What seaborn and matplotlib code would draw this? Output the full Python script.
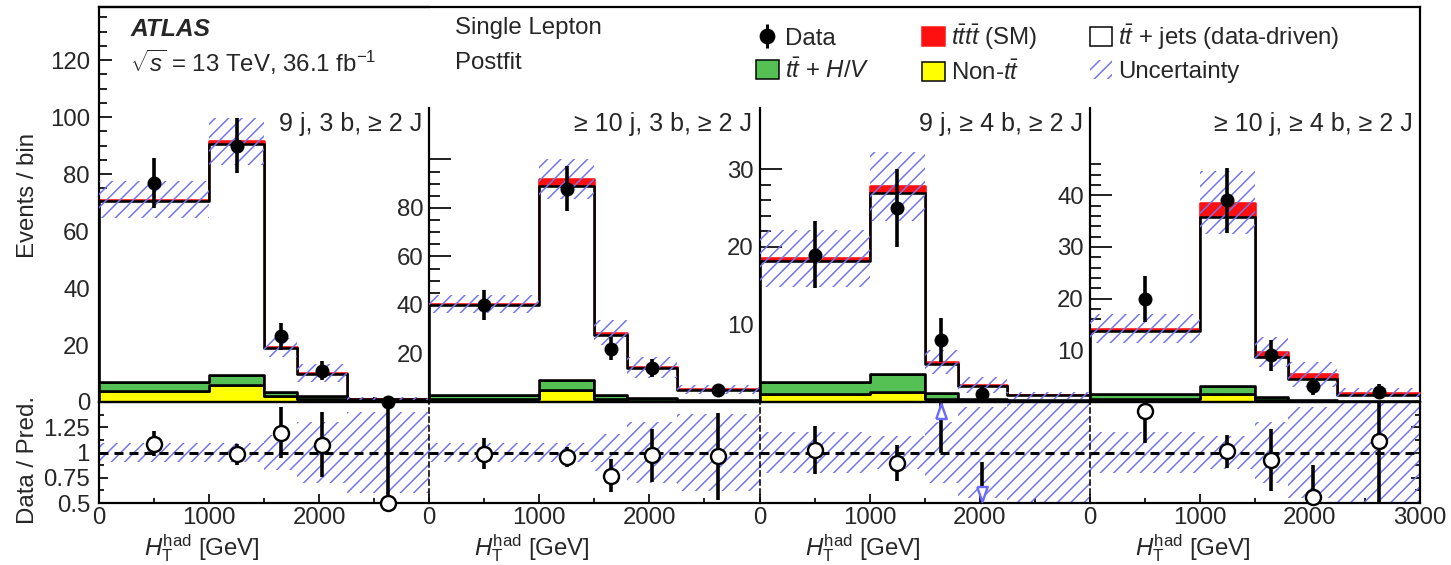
import numpy as np
import pandas as pd
import matplotlib
matplotlib.use("Agg")
import matplotlib.pyplot as plt
import seaborn as sns
from matplotlib.patches import Patch
from matplotlib.ticker import FixedLocator

# ------------------------------------------------------------------ data
BIN_EDGES = [0, 1000, 1500, 1800, 2250, 3000]          # H_T^had [GeV]
REGION_LABELS = ["9 j, 3 b, \u2265 2 J", "\u2265 10 j, 3 b, \u2265 2 J",
                 "9 j, \u2265 4 b, \u2265 2 J", "\u2265 10 j, \u2265 4 b, \u2265 2 J"]

DATA = [[77, 90, 23, 11, 0],
        [40, 88, 22, 14, 5],
        [19, 25, 8, 1, np.nan],
        [20, 39, 9, 3, 2]]
NONTT = [[3.8, 5.8, 2.0, 1.0, 0.3],
         [1.3, 5.1, 1.2, 0.6, 0.3],
         [1.0, 1.3, 0.4, 0.15, 0.1],
         [0.5, 1.5, 0.3, 0.1, 0.05]]
TTHV = [[3.1, 3.7, 1.6, 1.2, 0.4],
        [1.7, 3.8, 1.6, 1.0, 0.5],
        [1.6, 2.3, 0.8, 0.3, 0.15],
        [1.0, 1.6, 0.7, 0.3, 0.1]]
TTJETS = [[63.7, 81.2, 15.3, 7.8, 0.45],
          [36.9, 80.1, 24.9, 12.3, 4.2],
          [15.6, 23.3, 3.7, 1.6, 0.6],
          [12.3, 32.8, 7.8, 4.0, 1.25]]
TTTT = [[0.4, 0.8, 0.3, 0.2, 0.05],
        [0.5, 3.0, 0.8, 0.5, 0.2],
        [0.3, 0.9, 0.3, 0.15, 0.05],
        [0.4, 2.7, 0.9, 1.0, 0.4]]
UNC_REL = [[0.09, 0.09, 0.17, 0.30, 0.40],
           [0.09, 0.09, 0.18, 0.30, 0.38],
           [0.20, 0.16, 0.30, 0.45, 0.50],
           [0.20, 0.16, 0.30, 0.45, 0.50]]

Y_MAX = [138.6, 121.2, 37.9, 56.9]
Y_MAJOR = [[0, 20, 40, 60, 80, 100, 120], [0, 20, 40, 60, 80, 100],
           [0, 10, 20, 30], [0, 10, 20, 30, 40]]
Y_LABELS = [["0", "20", "40", "60", "80", "100", "120"], ["", "20", "40", "60", "80", ""],
            ["", "10", "20", "30"], ["", "10", "20", "30", "40"]]
Y_MINOR_STEP = [5, 5, 2, 2]
Y_MINOR_MAX = [135, 100, 30, 46]
X_TICKS = [[0, 1000, 2000], [0, 1000, 2000], [0, 1000, 2000], [0, 1000, 2000, 3000]]
X_LABELS = [["0", "1000", "2000"], ["0", "1000", "2000"], ["0", "1000", "2000"],
            ["0", "1000", "2000", "3000"]]
RATIO_TICKS = [0.5, 0.75, 1.0, 1.25]
RATIO_LABELS = ["0.5", "0.75", "1", "1.25"]
RATIO_MINOR = [0.625, 0.875, 1.125, 1.375, 1.5]

COMPONENTS = ["tttt", "ttjets", "ttHV", "nontt"]      # top -> bottom of stack
COLORS = {"tttt": "#ff1010", "ttjets": "#ffffff", "ttHV": "#55c155", "nontt": "#ffff00"}
HATCH_COLOR = "#7474ee"
ARROW_COLOR = "#6a6aff"
HATCH = "/////"

# ------------------------------------------------------------------ geometry
DPI = 200
W, H = 1451, 565


def pt(px):
    return px * 72.0 / DPI


def fx(px):
    return px / W


def fy(py):
    return 1 - py / H


FS = pt(24)

sns.set_style("ticks")
plt.rcParams.update({
    "font.family": ["Liberation Sans", "DejaVu Sans"],
    "mathtext.fontset": "custom",
    "mathtext.rm": "Liberation Sans",
    "mathtext.it": "Liberation Sans:italic",
    "mathtext.bf": "Liberation Sans:bold",
    "hatch.linewidth": pt(1.5),
    "hatch.color": HATCH_COLOR,
    "lines.scale_dashes": False,
    "axes.linewidth": pt(2.2),
    "axes.edgecolor": "black",
    "font.size": FS,
})

fig = plt.figure(figsize=(W / DPI, H / DPI), dpi=DPI, facecolor="white")

X0, X1 = 99, 1420
PW = (X1 - X0) / 4.0
Y_TOP1, Y_TOP, Y_MID, Y_BOT = 7, 108, 402, 503


def add_axes(x0, y0, x1, y1, **kw):
    return fig.add_axes([x0 / W, 1 - y1 / H, (x1 - x0) / W, (y1 - y0) / H], **kw)


# frame axes (top + right border, legend)
frame = add_axes(X0, Y_TOP1, X1, Y_MID)
frame.set_facecolor("none")
frame.set_xticks([])
frame.set_yticks([])
frame.spines["left"].set_visible(False)
frame.spines["bottom"].set_visible(False)
frame.set_zorder(0)

edges = np.array(BIN_EDGES, float)
centers = 0.5 * (edges[:-1] + edges[1:])

for i in range(4):
    left = X0 + i * PW
    right = left + PW
    top = Y_TOP1 if i == 0 else Y_TOP
    ax = add_axes(left, top, right, Y_MID)
    axr = add_axes(left, Y_MID, right, Y_BOT)
    for a in (ax, axr):
        a.set_facecolor("none")

    nontt = np.array(NONTT[i]); tthv = np.array(TTHV[i])
    ttj = np.array(TTJETS[i]); tttt = np.array(TTTT[i])
    total = nontt + tthv + ttj + tttt
    unc = np.array(UNC_REL[i])
    data = np.array(DATA[i], float)

    rows = []
    for name, vals in zip(["nontt", "ttHV", "ttjets", "tttt"], [nontt, tthv, ttj, tttt]):
        for c, v in zip(centers, vals):
            rows.append({"x": float(c), "w": float(v), "comp": name})
    df = pd.DataFrame(rows)
    sns.histplot(data=df, x="x", weights="w", hue="comp", hue_order=COMPONENTS,
                 palette=COLORS, multiple="stack", bins=list(BIN_EDGES), element="step",
                 fill=True, alpha=1, edgecolor="black", linewidth=pt(2.6),
                 legend=False, ax=ax)
    for coll in ax.collections:
        fc = coll.get_facecolor()
        if len(fc) and fc[0][0] > 0.9 and fc[0][1] < 0.3:
            coll.set_edgecolor(COLORS["tttt"])
            coll.set_zorder(0.9)

    # uncertainty band
    lo = np.append(total * (1 - unc), total[-1] * (1 - unc[-1]))
    hi = np.append(total * (1 + unc), total[-1] * (1 + unc[-1]))
    ax.fill_between(edges, lo, hi, step="post", facecolor="none", edgecolor=HATCH_COLOR,
                    hatch=HATCH, linewidth=0, zorder=3)

    # data
    valid = ~np.isnan(data)
    err_lo = np.sqrt(np.nan_to_num(data))
    err_hi = np.where(data == 0, 1.84, np.sqrt(np.nan_to_num(data)))
    ax.errorbar(centers[valid], data[valid], yerr=[err_lo[valid], err_hi[valid]], fmt="none",
                ecolor="black", elinewidth=pt(3.6), capsize=0, zorder=5, clip_on=False)
    sns.scatterplot(x=centers[valid], y=data[valid], color="black", s=pt(14) ** 2,
                    linewidth=0, zorder=6, clip_on=False, legend=False, ax=ax)

    ax.set_xlim(0, 3000)
    ax.set_ylim(0, Y_MAX[i])
    ax.set_xlabel("")
    ax.set_ylabel("")
    ax.yaxis.set_major_locator(FixedLocator(Y_MAJOR[i]))
    ax.set_yticklabels(Y_LABELS[i])
    ax.yaxis.set_minor_locator(FixedLocator(np.arange(0, Y_MINOR_MAX[i] + 0.01, Y_MINOR_STEP[i])))
    ax.xaxis.set_major_locator(FixedLocator([0, 1000, 2000, 3000]))
    ax.xaxis.set_minor_locator(FixedLocator([500, 1500, 2500]))
    big = i > 0
    ax.tick_params(axis="y", which="major", direction="in", length=pt(22 if big else 13),
                   width=pt(2), labelsize=FS, pad=pt(6 if big else 9), left=True, right=False)
    ax.tick_params(axis="y", which="minor", direction="in", length=pt(11 if big else 8),
                   width=pt(2), left=True, right=False)
    ax.tick_params(axis="x", which="major", direction="in", length=pt(9), width=pt(2),
                   labelbottom=False, bottom=True, top=False)
    ax.tick_params(axis="x", which="minor", direction="in", length=pt(5), width=pt(2),
                   bottom=True, top=False)
    ax.spines["right"].set_visible(False)
    ax.spines["top"].set_visible(i == 0)

    ax.text(1 - 7 / PW, 1 - (124 - top) / (Y_MID - top), REGION_LABELS[i],
            transform=ax.transAxes, ha="right", va="center", fontsize=pt(25))

    # ---------------- ratio panel
    band_lo = np.append(1 - unc, 1 - unc[-1])
    band_hi = np.append(1 + unc, 1 + unc[-1])
    axr.fill_between(edges, band_lo, band_hi, step="post", facecolor="none",
                     edgecolor=HATCH_COLOR, hatch=HATCH, linewidth=0, zorder=2)
    axr.axhline(1.0, color="black", lw=pt(3), ls=(0, (pt(9), pt(6))), zorder=3)

    ratio = data / total
    r_lo = err_lo / total
    r_hi = err_hi / total
    axr.errorbar(centers[valid], ratio[valid], yerr=[r_lo[valid], r_hi[valid]], fmt="none",
                 ecolor="black", elinewidth=pt(3.6), capsize=0, zorder=4)
    inr = valid & (ratio >= 0.5) & (ratio <= 1.5)
    zero = valid & (data == 0)
    up = valid & (ratio > 1.5)
    down = valid & (ratio > 0) & (ratio < 0.5)
    rx = np.concatenate([centers[inr], centers[zero]])
    ry = np.concatenate([ratio[inr], np.full(zero.sum(), 0.5)])
    sns.scatterplot(x=rx, y=ry, color="white", edgecolor="black", linewidth=pt(2.4),
                    s=pt(15) ** 2, zorder=6, clip_on=False, legend=False, ax=axr)
    tri_up = [(-0.35, -0.5), (0.35, -0.5), (0.0, 0.5), (-0.35, -0.5)]
    tri_dn = [(-0.35, 0.5), (0.35, 0.5), (0.0, -0.5), (-0.35, 0.5)]
    if up.any():
        axr.scatter(centers[up], np.full(up.sum(), 1.41), marker=tri_up, s=pt(15) ** 2,
                    facecolor="white", edgecolor=ARROW_COLOR, linewidth=pt(2.4), zorder=7,
                    clip_on=False)
    if down.any():
        axr.scatter(centers[down], np.full(down.sum(), 0.59), marker=tri_dn, s=pt(15) ** 2,
                    facecolor="white", edgecolor=ARROW_COLOR, linewidth=pt(2.4), zorder=7,
                    clip_on=False)

    axr.set_xlim(0, 3000)
    axr.set_ylim(0.5, 1.5)
    axr.xaxis.set_major_locator(FixedLocator(X_TICKS[i]))
    axr.set_xticklabels(X_LABELS[i])
    axr.xaxis.set_minor_locator(FixedLocator([500, 1500, 2500]))
    axr.tick_params(axis="x", which="major", direction="in", length=pt(9), width=pt(2),
                    labelsize=FS, pad=pt(4), bottom=True, top=False)
    axr.tick_params(axis="x", which="minor", direction="in", length=pt(5), width=pt(2),
                    bottom=True, top=False)
    axr.yaxis.set_major_locator(FixedLocator(RATIO_TICKS))
    axr.yaxis.set_minor_locator(FixedLocator(RATIO_MINOR))
    if i == 0:
        axr.set_yticklabels(RATIO_LABELS)
        axr.tick_params(axis="y", which="major", direction="in", length=pt(9), width=pt(2),
                        labelsize=FS, pad=pt(9), left=True, right=False)
        axr.tick_params(axis="y", which="minor", direction="in", length=pt(5), width=pt(2),
                        left=True, right=False)
    elif i == 3:
        axr.tick_params(axis="y", which="both", direction="in", width=pt(2), left=False,
                        right=True, labelleft=False, labelright=False)
        axr.tick_params(axis="y", which="major", length=pt(9))
        axr.tick_params(axis="y", which="minor", length=pt(5))
    else:
        axr.tick_params(axis="y", which="both", left=False, right=False, labelleft=False)
    if i > 0:
        axr.spines["left"].set_linestyle((0, (pt(5), pt(4))))
        axr.spines["left"].set_linewidth(pt(1.6))
    axr.spines["right"].set_visible(i == 3)
    axr.set_xlabel("")
    axr.set_ylabel("")

    fig.text(fx(left + 103), fy(548), r"$H_{\mathrm{T}}^{\mathrm{had}}$ [GeV]",
             ha="center", va="center", fontsize=FS)

# ------------------------------------------------------------------ texts
fig.text(fx(28), fy(195), "Events / bin", rotation=90, ha="center", va="center", fontsize=FS)
fig.text(fx(28), fy(460), "Data / Pred.", rotation=90, ha="center", va="center", fontsize=FS)
fig.text(fx(130), fy(29), "ATLAS", fontweight="bold", style="italic", ha="left", va="center",
         fontsize=pt(24.5))
fig.text(fx(130), fy(62), r"$\sqrt{s}$ = 13 TeV, 36.1 fb$^{-1}$", ha="left", va="center",
         fontsize=FS)
fig.text(fx(455), fy(28), "Single Lepton", ha="left", va="center", fontsize=FS)
fig.text(fx(455), fy(63), "Postfit", ha="left", va="center", fontsize=FS)

# ------------------------------------------------------------------ legend
eb = frame.errorbar([np.nan], [np.nan], yerr=[1], fmt="o", color="black", ms=pt(13),
                    elinewidth=pt(3), capsize=0, label="Data")
handles = [
    eb,
    Patch(facecolor=COLORS["ttHV"], edgecolor="black", linewidth=pt(1.5)),
    Patch(facecolor=COLORS["tttt"], edgecolor=COLORS["tttt"], linewidth=pt(1.5)),
    Patch(facecolor=COLORS["nontt"], edgecolor="black", linewidth=pt(1.5)),
    Patch(facecolor="white", edgecolor="black", linewidth=pt(1.5)),
    Patch(facecolor="none", edgecolor=HATCH_COLOR, hatch=HATCH, linewidth=0),
]
labels = ["Data", r"$t\bar{t}$ + $H/V$", r"$t\bar{t}t\bar{t}$ (SM)", r"Non-$t\bar{t}$",
          r"$t\bar{t}$ + jets (data-driven)", "Uncertainty"]
leg = frame.legend(handles, labels, ncol=3, loc="upper left",
                   bbox_to_anchor=(fx(756), fy(22)), bbox_transform=fig.transFigure,
                   frameon=False, fontsize=FS, handlelength=0.95, handleheight=0.85,
                   handletextpad=0.25, columnspacing=2.2, labelspacing=0.35,
                   borderpad=0, borderaxespad=0)

fig.savefig("out.png", dpi=DPI, facecolor="white")
